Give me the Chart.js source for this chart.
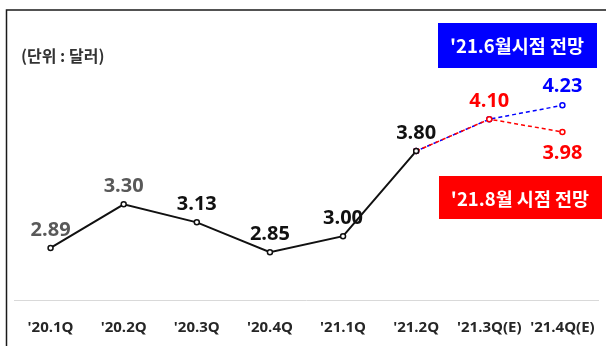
<!DOCTYPE html>
<html>
<head>
<meta charset="utf-8">
<script src="https://cdn.jsdelivr.net/npm/chart.js@4.4.1/dist/chart.umd.min.js"></script>
<style>
    html, body { margin: 0; padding: 0; background: #fff; }
    #wrap { width: 606px; height: 346px; }
</style>
</head>
<body>
<div id="wrap"><canvas id="price-chart"></canvas></div>
<script>
// quarters on the x axis
const quarters = ["'20.1Q", "'20.2Q", "'20.3Q", "'20.4Q", "'21.1Q", "'21.2Q", "'21.3Q(E)", "'21.4Q(E)"];
// actual price and the two outlooks (dollars)
const actualPrice = [2.89, 3.30, 3.13, 2.85, 3.00, 3.80, null, null];
const juneOutlook = [null, null, null, null, null, 3.80, 4.10, 4.23];
const augOutlook = [null, null, null, null, null, 3.80, 4.10, 3.98];

const unitText = "(단위 : 달러)";
const juneTag = "'21.6월시점 전망";
const augTag = "'21.8월 시점 전망";

const priceCanvas = document.getElementById("price-chart").getContext('2d');
const numFont = "bold 20px 'Open Sans', sans-serif";
const korFont = "bold 18.5px 'Noto Sans CJK KR', sans-serif";

// which points get a value label, with colour and offset from the point
const labelSetup = [
    { idx: [0, 1, 2, 3, 4, 5], colors: ['#595959', '#595959', '#111', '#111', '#111', '#111'], dy: -18 },
    { idx: [6, 7], colors: ['#ff0000', '#ff0000'], dy: [-18, 21] },
    { idx: [7], colors: ['#0000ff'], dy: -19 }
];

// frame, unit text and the two tag boxes
const decoPlugin = {
    id: 'deco',
    beforeDraw(chart) {
        const ctx = chart.ctx;
        ctx.save();
        ctx.strokeStyle = '#1a1a1a';
        ctx.lineWidth = 1.5;
        ctx.beginPath();
        ctx.moveTo(6.5, 346);
        ctx.lineTo(6.5, 10);
        ctx.lineTo(606, 10);
        ctx.stroke();

        ctx.fillStyle = '#333';
        ctx.font = "bold 16px 'Noto Sans CJK KR', sans-serif";
        ctx.textBaseline = 'middle';
        ctx.textAlign = 'left';
        ctx.fillText(unitText, 21, 56);
        ctx.restore();
    },
    afterDraw(chart) {
        const ctx = chart.ctx;
        ctx.save();
        ctx.fillStyle = '#0000ff';
        ctx.fillRect(438, 23, 159, 45);
        ctx.fillStyle = '#ff0000';
        ctx.fillRect(439, 176, 163, 43);

        ctx.fillStyle = '#fff';
        ctx.font = korFont;
        ctx.textAlign = 'center';
        ctx.textBaseline = 'middle';
        ctx.fillText(juneTag, 517, 46);
        ctx.fillText(augTag, 520, 199);

        // value labels
        ctx.font = numFont;
        labelSetup.forEach((setup, d) => {
            const meta = chart.getDatasetMeta(d);
            const values = chart.data.datasets[d].data;
            setup.idx.forEach((i, k) => {
                const pt = meta.data[i];
                const dy = Array.isArray(setup.dy) ? setup.dy[k] : setup.dy;
                ctx.fillStyle = setup.colors[k];
                ctx.fillText(values[i].toFixed(2), pt.x, pt.y + dy);
            });
        });
        ctx.restore();
    }
};

const priceData = {
    labels: quarters,
    datasets: [{
        data: actualPrice,
        borderColor: '#111',
        borderWidth: 2,
        pointRadius: 2.5,
        pointBorderWidth: 1.5,
        pointBorderColor: '#111',
        pointBackgroundColor: '#fff'
    }, {
        data: augOutlook,
        borderColor: '#ff0000',
        borderWidth: 1.5,
        borderDash: [4, 3],
        pointRadius: 2.5,
        pointBorderWidth: 1.5,
        pointBorderColor: '#ff0000',
        pointBackgroundColor: '#fff'
    }, {
        data: juneOutlook,
        borderColor: '#0000ff',
        borderWidth: 1.5,
        borderDash: [4, 3],
        borderDashOffset: 2,
        pointRadius: 2.5,
        pointBorderWidth: 1.5,
        pointBorderColor: '#0000ff',
        pointBackgroundColor: '#fff'
    }]
};

const priceOptions = {
    responsive: true,
    maintainAspectRatio: false,
    animation: false,
    layout: { padding: { left: 14, right: 1, top: 66, bottom: 0 } },
    scales: {
        x: {
            offset: true,
            grid: { display: false },
            border: { display: true, color: '#d9d9d9', width: 1 },
            ticks: {
                color: '#262626',
                padding: 11,
                maxRotation: 0,
                autoSkip: false,
                font: { family: "'Open Sans', sans-serif", size: 15, weight: 'bold' }
            },
            afterFit: axis => { axis.height = 46; }
        },
        y: { display: false, min: 2.4, max: 4.6 }
    },
    plugins: {
        legend: { display: false },
        tooltip: { enabled: false }
    }
};

let priceChart = new Chart(priceCanvas, {
    type: 'line',
    data: priceData,
    options: priceOptions,
    plugins: [decoPlugin]
});
</script>
</body>
</html>
